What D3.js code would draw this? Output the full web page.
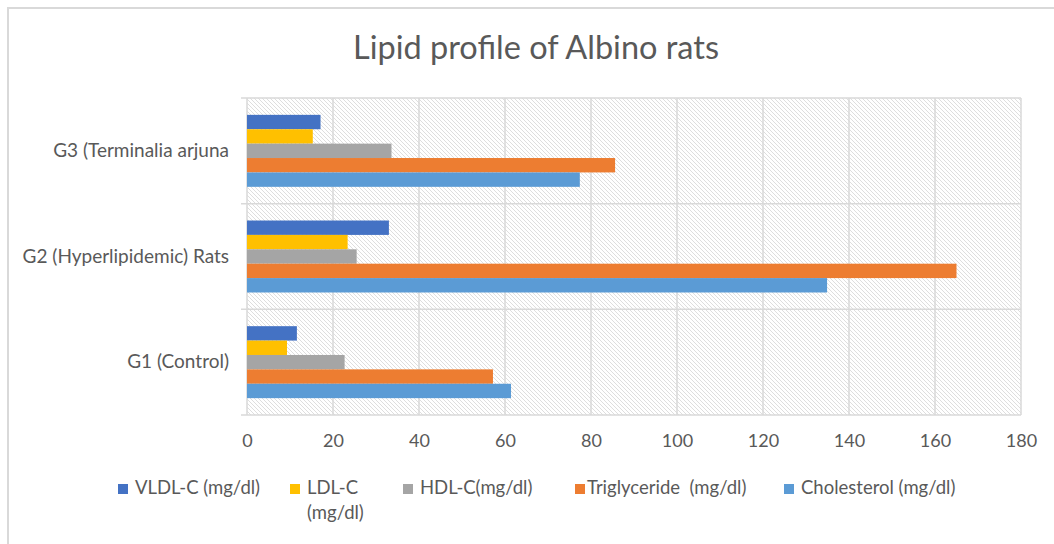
<!DOCTYPE html>
<html>
<head>
<meta charset="utf-8">
<script src="https://cdnjs.cloudflare.com/ajax/libs/d3/7.8.5/d3.min.js"></script>
<style>
body { margin: 0; background: #fff; }
text { font-family: Lato, "Open Sans", sans-serif; fill: #595959; }
</style>
</head>
<body>
<svg width="1054" height="544"></svg>
<script>
// data
var groups = ["G3 (Terminalia arjuna", "G2 (Hyperlipidemic) Rats", "G1 (Control)"];
var seriesNames = ["VLDL-C (mg/dl)", "LDL-C (mg/dl)", "HDL-C(mg/dl)", "Triglyceride  (mg/dl)", "Cholesterol (mg/dl)"];
var vldl = [17.1, 33.0, 11.6];
var ldl = [15.3, 23.4, 9.3];
var hdl = [33.6, 25.5, 22.7];
var trig = [85.6, 165.0, 57.2];
var chol = [77.4, 134.9, 61.4];
var xTicks = [0, 20, 40, 60, 80, 100, 120, 140, 160, 180];
var colors = ["#4472C4", "#FFC000", "#A5A5A5", "#ED7D31", "#5B9BD5"];

var values = [vldl, ldl, hdl, trig, chol];

var svg = d3.select("svg");

// outer chart border (right/bottom fall outside the window)
svg.append("path")
  .attr("d", "M8,560V8H1070")
  .attr("fill", "none")
  .attr("stroke", "#d9d9d9")
  .attr("stroke-width", 2);

// hatch pattern for the plot area
var defs = svg.append("defs");
var pat = defs.append("pattern")
  .attr("id", "hatch")
  .attr("patternUnits", "userSpaceOnUse")
  .attr("width", 4).attr("height", 4);
pat.append("rect").attr("width", 4).attr("height", 4).attr("fill", "#fff");
pat.append("path")
  .attr("d", "M-1,-1L5,5M-1,3L1,5M3,-1L5,1")
  .attr("stroke", "#dedede")
  .attr("stroke-width", 1);

var pLeft = 247, pRight = 1021, pTop = 98, pBottom = 415;

var x = d3.scaleLinear().domain([0, 180]).range([pLeft, pRight]);
var y = d3.scaleBand().domain(groups).range([pTop, pBottom]);
var yInner = d3.scaleBand().domain(d3.range(seriesNames.length))
  .range([0, y.bandwidth()]).paddingInner(0).paddingOuter(1.17);

svg.append("rect")
  .attr("x", pLeft).attr("y", pTop)
  .attr("width", pRight - pLeft).attr("height", pBottom - pTop)
  .attr("fill", "url(#hatch)");

// vertical grid
svg.append("g").selectAll("line")
  .data(xTicks)
  .enter().append("line")
  .attr("x1", function(d) { return x(d); })
  .attr("x2", function(d) { return x(d); })
  .attr("y1", pTop).attr("y2", pBottom)
  .attr("stroke", "#d9d9d9")
  .attr("stroke-width", 1.5);

// horizontal grid at category boundaries
var bounds = groups.map(function(g) { return y(g); }).concat([pBottom]);
svg.append("g").selectAll("line")
  .data(bounds)
  .enter().append("line")
  .attr("x1", pLeft - 6).attr("x2", pRight)
  .attr("y1", function(d) { return d; })
  .attr("y2", function(d) { return d; })
  .attr("stroke", "#d9d9d9")
  .attr("stroke-width", 1.5);

// bars
values.forEach(function(vals, si) {
  svg.append("g").selectAll("rect")
    .data(vals)
    .enter().append("rect")
    .attr("x", x(0))
    .attr("y", function(d, i) { return y(groups[i]) + yInner(si); })
    .attr("width", function(d) { return x(d) - x(0); })
    .attr("height", yInner.bandwidth())
    .attr("fill", colors[si]);
});

// x axis labels
var xAxis = d3.axisBottom(x).tickValues(xTicks).tickSize(0).tickPadding(0);
var gx = svg.append("g")
  .attr("transform", "translate(0," + 434 + ")")
  .call(xAxis);
gx.select(".domain").remove();
gx.selectAll("text")
  .attr("dy", "0.71em")
  .style("font-size", "18px")
  .style("font-family", "Lato, sans-serif")
  .attr("fill", "#595959");

// category labels
var yAxis = d3.axisLeft(y).tickSize(0).tickPadding(0);
var gy = svg.append("g")
  .attr("transform", "translate(229,0)")
  .call(yAxis);
gy.select(".domain").remove();
gy.selectAll("text")
  .style("font-size", "19px")
  .style("font-family", "Lato, sans-serif")
  .attr("fill", "#595959");

// title
svg.append("text")
  .attr("x", 536)
  .attr("y", 59)
  .attr("text-anchor", "middle")
  .style("font-size", "32.5px")
  .text("Lipid profile of Albino rats");

// legend
var legendX = [118, 290, 403, 575, 784];
var legend = svg.append("g").selectAll("g")
  .data(seriesNames)
  .enter().append("g")
  .attr("transform", function(d, i) { return "translate(" + legendX[i] + ",484)"; });
legend.append("rect")
  .attr("width", 10).attr("height", 10)
  .attr("fill", function(d, i) { return colors[i]; });
legend.append("text")
  .attr("x", function(d, i) { return i == 3 ? 12 : 17; })
  .attr("y", 10)
  .style("font-size", "18.5px")
  .style("white-space", "pre")
  .each(function(d, i) {
    var t = d3.select(this);
    if (i == 1) {
      t.append("tspan").attr("x", 17).text("LDL-C");
      t.append("tspan").attr("x", 17).attr("dy", 25).text("(mg/dl)");
    } else {
      t.text(d);
    }
  });
</script>
</body>
</html>
